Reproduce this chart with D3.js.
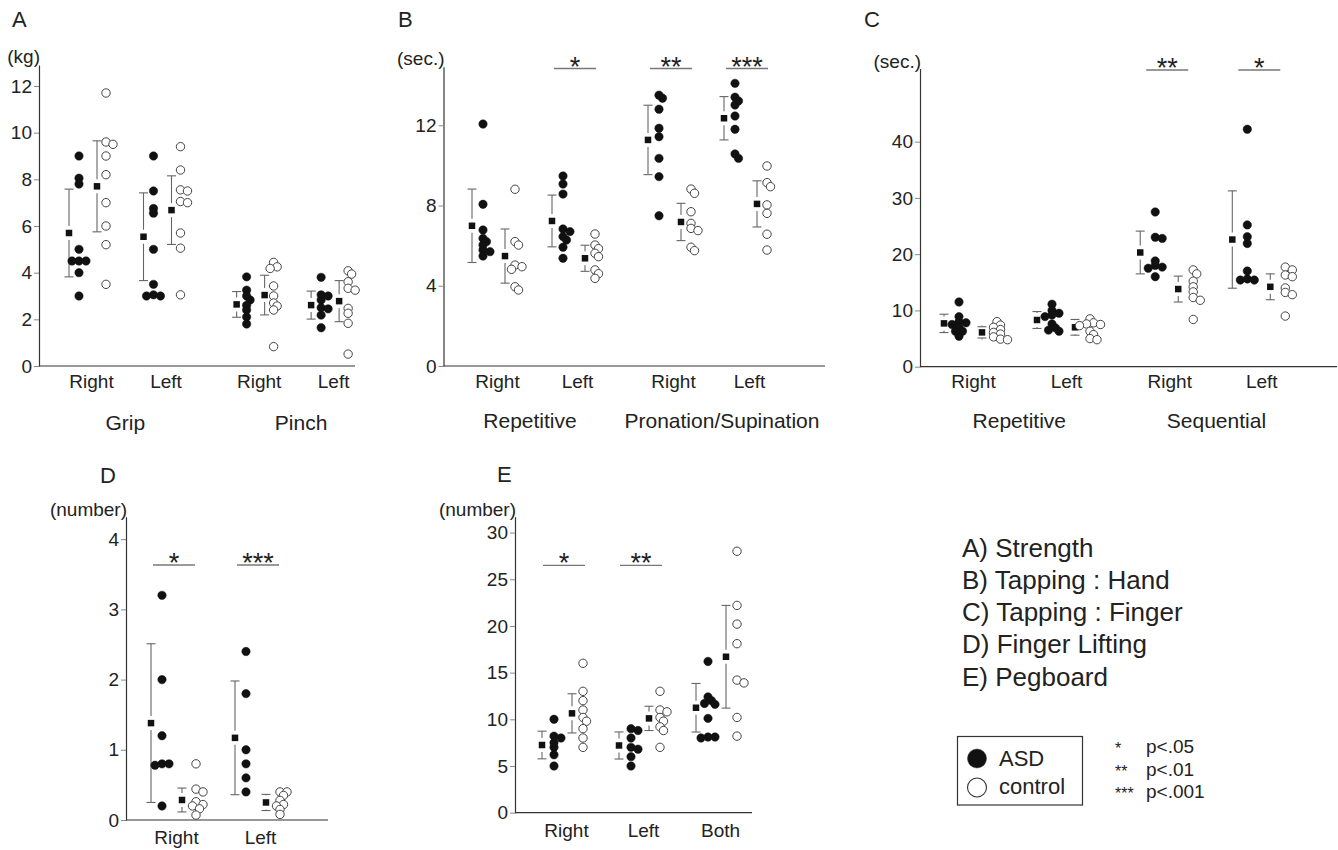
<!DOCTYPE html>
<html>
<head>
<meta charset="utf-8">
<script src="https://cdn.jsdelivr.net/npm/d3@7"></script>
<style>
  body { margin: 0; background: #fff; }
  svg text { font-family: "Liberation Sans", Arial, Helvetica, sans-serif; fill: #222; }
</style>
</head>
<body>
<svg id="chart" width="1338" height="850"></svg>
<script>
// ---------- A) Strength (kg) ----------
const strengthCategories = ["Right", "Left", "Right", "Left"];
const strengthGroups = ["Grip", "Pinch"];
const strengthASD = [
  [9.0, 8.05, 7.8, 5.0, 4.5, 4.5, 4.5, 4.0, 3.0],
  [9.0, 7.5, 6.75, 6.55, 5.0, 3.5, 3.05, 3.0, 3.0],
  [3.82, 3.25, 3.0, 2.83, 2.6, 2.4, 2.1, 1.8],
  [3.8, 3.05, 3.0, 2.83, 2.5, 2.45, 2.18, 1.64]
];
const strengthControl = [
  [11.7, 9.6, 9.5, 9.0, 8.2, 7.0, 6.0, 5.2, 3.5],
  [9.4, 8.4, 7.55, 7.5, 7.05, 7.0, 5.7, 5.05, 3.05],
  [4.44, 4.25, 4.18, 3.43, 3.0, 2.7, 2.57, 2.4, 0.83],
  [4.08, 3.94, 3.61, 3.33, 3.25, 2.47, 2.26, 1.83, 0.51]
];
const strengthASDMean = [5.7, 5.54, 2.64, 2.61];
const strengthASDSD = [1.88, 1.88, 0.55, 0.6];
const strengthControlMean = [7.7, 6.68, 3.04, 2.78];
const strengthControlSD = [1.95, 1.47, 0.85, 0.88];
const strengthSig = ["", "", "", ""];
const strengthTicks = [0, 2, 4, 6, 8, 10, 12];

// ---------- B) Tapping : Hand (sec.) ----------
const handCategories = ["Right", "Left", "Right", "Left"];
const handGroups = ["Repetitive", "Pronation/Supination"];
const handASD = [
  [12.06, 8.06, 6.78, 6.36, 6.2, 6.03, 5.78, 5.7, 5.48],
  [9.47, 9.07, 8.57, 6.83, 6.7, 6.45, 6.28, 5.92, 5.37],
  [13.5, 13.35, 12.8, 11.85, 11.43, 10.35, 9.44, 7.49],
  [14.09, 13.4, 13.21, 13.01, 12.46, 11.8, 10.57, 10.35]
];
const handControl = [
  [8.81, 6.2, 6.03, 5.03, 4.95, 4.82, 3.95, 3.79],
  [6.58, 6.03, 5.85, 5.62, 5.45, 4.79, 4.6, 4.37],
  [8.82, 8.61, 7.69, 7.11, 6.86, 6.75, 5.92, 5.75],
  [9.97, 9.14, 8.94, 8.03, 7.61, 6.57, 5.78]
];
const handASDMean = [6.99, 7.23, 11.27, 12.35];
const handASDSD = [1.83, 1.29, 1.73, 1.08];
const handControlMean = [5.48, 5.37, 7.18, 8.08];
const handControlSD = [1.35, 0.65, 0.93, 1.15];
const handSig = ["", "*", "**", "***"];
const handTicks = [0, 4, 8, 12];

// ---------- C) Tapping : Finger (sec.) ----------
const fingerCategories = ["Right", "Left", "Right", "Left"];
const fingerGroups = ["Repetitive", "Sequential"];
const fingerASD = [
  [11.5, 8.9, 8.0, 7.8, 7.5, 7.0, 6.3, 6.3, 5.4],
  [11.1, 10.0, 9.5, 9.2, 8.9, 7.6, 6.9, 6.5, 6.3],
  [27.5, 23.0, 22.8, 18.8, 18.0, 17.7, 17.5, 16.0],
  [42.2, 25.2, 23.1, 21.9, 17.0, 15.6, 15.4, 15.4]
];
const fingerControl = [
  [8.0, 7.4, 7.0, 6.6, 6.1, 5.8, 5.3, 4.9, 4.8],
  [8.5, 7.8, 7.6, 7.5, 7.3, 6.3, 5.7, 5.0, 4.8],
  [17.2, 16.5, 15.2, 14.2, 13.3, 12.3, 11.8, 8.4],
  [17.7, 17.2, 16.3, 16.0, 14.0, 13.2, 12.8, 9.0]
];
const fingerASDMean = [7.7, 8.3, 20.3, 22.6];
const fingerASDSD = [1.63, 1.5, 3.8, 8.65];
const fingerControlMean = [6.1, 7.0, 13.8, 14.2];
const fingerControlSD = [1.0, 1.4, 2.3, 2.3];
const fingerSig = ["", "", "**", "*"];
const fingerTicks = [0, 10, 20, 30, 40];

// ---------- D) Finger Lifting (number) ----------
const liftCategories = ["Right", "Left"];
const liftASD = [
  [3.2, 2.0, 1.2, 0.8, 0.8, 0.78, 0.2],
  [2.4, 1.8, 1.0, 0.8, 0.6, 0.4]
];
const liftControl = [
  [0.8, 0.44, 0.4, 0.26, 0.22, 0.2, 0.16, 0.07],
  [0.4, 0.4, 0.35, 0.28, 0.22, 0.2, 0.15, 0.08]
];
const liftASDMean = [1.38, 1.17];
const liftASDSD = [1.13, 0.81];
const liftControlMean = [0.285, 0.25];
const liftControlSD = [0.17, 0.115];
const liftSig = ["*", "***"];
const liftTicks = [0, 1, 2, 3, 4];

// ---------- E) Pegboard (number) ----------
const pegCategories = ["Right", "Left", "Both"];
const pegASD = [
  [10.0, 8.2, 8.0, 7.5, 7.0, 6.2, 5.0],
  [9.0, 8.8, 8.0, 7.0, 6.8, 6.0, 5.0],
  [16.2, 12.4, 12.0, 11.7, 11.6, 10.1, 8.1, 8.1, 8.0]
];
const pegControl = [
  [16.0, 13.0, 12.0, 11.0, 10.2, 9.8, 9.0, 8.0, 7.0],
  [13.0, 11.0, 10.8, 10.2, 9.8, 9.2, 8.8, 7.0],
  [28.0, 22.2, 20.2, 18.1, 14.2, 13.9, 10.2, 8.2]
];
const pegASDMean = [7.25, 7.2, 11.24];
const pegASDSD = [1.48, 1.45, 2.6];
const pegControlMean = [10.64, 10.1, 16.7];
const pegControlSD = [2.1, 1.3, 5.5];
const pegSig = ["*", "**", ""];
const pegTicks = [0, 5, 10, 15, 20, 25, 30];

// ---------- Legend texts ----------
const testNames = ["A) Strength", "B) Tapping : Hand", "C) Tapping : Finger", "D) Finger Lifting", "E) Pegboard"];
const groupNames = ["ASD", "control"];
const sigStars = ["*", "**", "***"];
const sigLabels = ["p<.05", "p<.01", "p<.001"];

// ---------- Panel layout ----------
const panels = [
  { letter: "A", letterXY: [12, 27], unit: "(kg)", unitY: 63,
    axisX: 39, xEnd: 355, y0: 366, yTop: 65, yMax: 12.9, ticks: strengthTicks,
    centers: [88, 162.5], slots: [0, 1, 2.25, 3.25], groupSlots: [0.5, 2.86],
    offsets: [-19, -9, 9, 18], cats: strengthCategories, groups: strengthGroups,
    asd: strengthASD, ctrl: strengthControl,
    asdMean: strengthASDMean, asdSD: strengthASDSD, ctrlMean: strengthControlMean, ctrlSD: strengthControlSD,
    sig: strengthSig, sigY: 69, catY: 388, groupY: 430 },
  { letter: "B", letterXY: [398, 27], unit: "(sec.)", unitY: 65,
    axisX: 443.5, xEnd: 825, y0: 366, yTop: 66.7, yMax: 14.92, ticks: handTicks,
    centers: [494, 574], slots: [0, 1, 2.2, 3.15], groupSlots: [0.45, 2.85],
    offsets: [-22, -11, 11, 21], cats: handCategories, groups: handGroups,
    asd: handASD, ctrl: handControl,
    asdMean: handASDMean, asdSD: handASDSD, ctrlMean: handControlMean, ctrlSD: handControlSD,
    sig: handSig, sigY: 68.5, catY: 388, groupY: 428 },
  { letter: "C", letterXY: [864, 27], unit: "(sec.)", unitY: 68,
    axisX: 920, xEnd: 1337, y0: 366.7, yTop: 68.5, yMax: 53, ticks: fingerTicks,
    centers: [970, 1063], slots: [0, 1, 2.11, 3.1], groupSlots: [0.53, 2.65],
    offsets: [-26, -11, 12, 27], cats: fingerCategories, groups: fingerGroups,
    asd: fingerASD, ctrl: fingerControl,
    asdMean: fingerASDMean, asdSD: fingerASDSD, ctrlMean: fingerControlMean, ctrlSD: fingerControlSD,
    sig: fingerSig, sigY: 70, catY: 388, groupY: 428 },
  { letter: "D", letterXY: [100, 483], unit: "(number)", unitY: 516,
    axisX: 126, xEnd: 328, y0: 820, yTop: 516.7, yMax: 4.32, ticks: liftTicks,
    centers: [173, 257], slots: [0, 1], groupSlots: [],
    offsets: [-22, -11, 9, 23], cats: liftCategories, groups: [],
    asd: liftASD, ctrl: liftControl,
    asdMean: liftASDMean, asdSD: liftASDSD, ctrlMean: liftControlMean, ctrlSD: liftControlSD,
    sig: liftSig, sigY: 565, catY: 844, groupY: 0 },
  { letter: "E", letterXY: [497, 482], unit: "(number)", unitY: 516,
    axisX: 515, xEnd: 752, y0: 812.7, yTop: 516.7, yMax: 31.7, ticks: pegTicks,
    centers: [563, 640], slots: [0, 1, 2], groupSlots: [],
    offsets: [-21, -9, 9, 20], cats: pegCategories, groups: [],
    asd: pegASD, ctrl: pegControl,
    asdMean: pegASDMean, asdSD: pegASDSD, ctrlMean: pegControlMean, ctrlSD: pegControlSD,
    sig: pegSig, sigY: 565.3, catY: 837, groupY: 0 }
];

const svg = d3.select("#chart");
const R = 4.2;        // dot radius
const SQ = 6.5;       // mean marker size
const GAP = 7;        // gap in error bar around the mean marker
const CAP = 4.5;      // half width of error bar caps
const FONT = "Liberation Sans, Arial, sans-serif";

// Spread overlapping points sideways, letting neighbours touch as clusters
function dodge(values, y, cx) {
  const placed = [];
  const steps = [0, 3.5, -3.5, 7, -7, 10.5, -10.5];
  values.slice().sort((a, b) => b - a).forEach(v => {
    const py = y(v);
    let px = cx;
    for (const s of steps) {
      const tx = cx + s;
      if (placed.every(p => Math.hypot(p.x - tx, p.y - py) >= 4.5)) { px = tx; break; }
    }
    placed.push({ x: px, y: py, v });
  });
  return placed;
}

panels.forEach(p => {
  const g = svg.append("g");
  const y = d3.scaleLinear().domain([0, p.yMax]).range([p.y0, p.yTop]);
  const x = d3.scaleLinear().domain([0, 1]).range(p.centers);

  // panel letter
  g.append("text").attr("x", p.letterXY[0]).attr("y", p.letterXY[1])
    .attr("font-size", 22).text(p.letter);

  // y axis
  const yAxis = g.append("g").attr("transform", `translate(${p.axisX},0)`)
    .call(d3.axisLeft(y).tickValues(p.ticks).tickFormat(d3.format("d"))
      .tickSize(5).tickSizeOuter(0).tickPadding(2));
  yAxis.select(".domain").attr("stroke", "#333").attr("stroke-width", 1.2);
  yAxis.selectAll(".tick line").attr("stroke", "#888");
  yAxis.selectAll(".tick text").attr("font-size", 19).attr("fill", "#222").attr("font-family", FONT);

  // unit label
  g.append("text").attr("x", p.axisX + 1).attr("y", p.unitY).attr("text-anchor", "end")
    .attr("font-size", 19).text(p.unit);

  // x axis line
  g.append("line").attr("x1", p.axisX).attr("x2", p.xEnd).attr("y1", p.y0).attr("y2", p.y0)
    .attr("stroke", "#333").attr("stroke-width", 1.2);

  // category labels
  const xAxis = g.append("g").attr("transform", `translate(0,${p.catY})`)
    .call(d3.axisBottom(x).tickValues(p.slots).tickSize(0).tickPadding(0)
      .tickFormat((d, i) => p.cats[i]));
  xAxis.select(".domain").remove();
  xAxis.selectAll(".tick text").attr("dy", 0).attr("y", 0).attr("dx", 3)
    .attr("font-size", 19).attr("fill", "#222").attr("font-family", FONT);

  // group labels
  p.groups.forEach((name, i) => {
    g.append("text").attr("x", x(p.groupSlots[i])).attr("y", p.groupY)
      .attr("text-anchor", "middle").attr("font-size", 21).text(name);
  });

  p.slots.forEach((s, i) => {
    const cx = x(s);
    const sets = [
      { vals: p.asd[i], mean: p.asdMean[i], sd: p.asdSD[i], mx: cx + p.offsets[0], dx: cx + p.offsets[1], filled: true },
      { vals: p.ctrl[i], mean: p.ctrlMean[i], sd: p.ctrlSD[i], mx: cx + p.offsets[2], dx: cx + p.offsets[3], filled: false }
    ];
    sets.forEach(set => {
      const ym = y(set.mean), yHi = y(set.mean + set.sd), yLo = y(set.mean - set.sd);
      const eb = g.append("g").attr("stroke", "#666").attr("stroke-width", 1.1);
      eb.append("line").attr("x1", set.mx).attr("x2", set.mx).attr("y1", yHi).attr("y2", ym - GAP);
      eb.append("line").attr("x1", set.mx).attr("x2", set.mx).attr("y1", ym + GAP).attr("y2", yLo);
      eb.append("line").attr("x1", set.mx - CAP).attr("x2", set.mx + CAP).attr("y1", yHi).attr("y2", yHi);
      eb.append("line").attr("x1", set.mx - CAP).attr("x2", set.mx + CAP).attr("y1", yLo).attr("y2", yLo);
      g.append("rect").attr("x", set.mx - SQ / 2).attr("y", ym - SQ / 2)
        .attr("width", SQ).attr("height", SQ).attr("fill", "#111");

      const pts = dodge(set.vals, y, set.dx);
      g.selectAll(null).data(pts).enter().append("circle")
        .attr("cx", d => d.x).attr("cy", d => d.y).attr("r", R)
        .attr("fill", set.filled ? "#111" : "#fff")
        .attr("stroke", set.filled ? "#111" : "#444")
        .attr("stroke-width", set.filled ? 0.5 : 1);
    });

    // significance marker
    if (p.sig[i]) {
      g.append("line").attr("x1", cx - 20).attr("x2", cx + 22).attr("y1", p.sigY).attr("y2", p.sigY)
        .attr("stroke", "#777").attr("stroke-width", 1.3);
      g.append("text").attr("x", cx + 1).attr("y", p.sigY + 7).attr("text-anchor", "middle")
        .attr("font-size", 27).attr("fill", "#666").text(p.sig[i]);
    }
  });
});

// ---------- Legend ----------
const lg = svg.append("g");
testNames.forEach((t, i) => {
  lg.append("text").attr("x", 962).attr("y", 556.5 + i * 32.3).attr("font-size", 26).text(t);
});
lg.append("rect").attr("x", 957.5).attr("y", 736.5).attr("width", 125).attr("height", 68.5)
  .attr("fill", "none").attr("stroke", "#333").attr("stroke-width", 1.2);
groupNames.forEach((n, i) => {
  lg.append("circle").attr("cx", 977).attr("cy", 758.5 + i * 29).attr("r", 9.5)
    .attr("fill", i === 0 ? "#111" : "#fff").attr("stroke", "#333").attr("stroke-width", i === 0 ? 0.5 : 1.1);
  lg.append("text").attr("x", 999).attr("y", 766 + i * 28).attr("font-size", 22).text(n);
});
sigStars.forEach((s, i) => {
  lg.append("text").attr("x", 1115).attr("y", 754 + i * 22.5).attr("font-size", 16).attr("fill", "#444").text(s);
  lg.append("text").attr("x", 1146).attr("y", 753 + i * 22.5).attr("font-size", 19).attr("fill", "#333").text(sigLabels[i]);
});
</script>
</body>
</html>
